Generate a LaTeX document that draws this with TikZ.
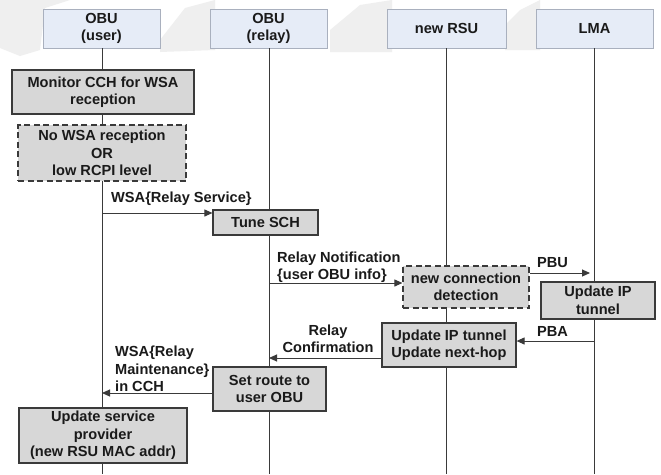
\documentclass[tikz,border=0pt]{standalone}
\usepackage{fontspec}
\setmainfont{Liberation Sans}
\usetikzlibrary{arrows.meta}
\definecolor{hdrfill}{HTML}{E6ECF7}
\definecolor{hdrdraw}{HTML}{A9B0BE}
\definecolor{boxfill}{HTML}{D7D7D7}
\definecolor{linec}{HTML}{3A3A3A}
\definecolor{txt}{HTML}{1A1A1A}
\definecolor{smudge}{HTML}{EFEFEF}
\begin{document}
\begin{tikzpicture}[x=1pt,y=-1pt,
  every node/.style={font=\fontsize{14.6}{17.5}\selectfont\bfseries, text=txt},
  hdr/.style={draw=hdrdraw, line width=0.8pt, fill=hdrfill, align=center, inner sep=0pt, minimum height=39pt},
  gbox/.style={draw=linec, line width=1.2pt, fill=boxfill, align=center, inner sep=0pt},
  dbox/.style={gbox, dash pattern=on 6pt off 3.5pt},
  life/.style={draw=linec, line width=1pt},
  msg/.style={draw=linec, line width=1pt, -{Triangle[length=8pt,width=7pt]}},
  lbl/.style={inner sep=0pt, align=left, anchor=north west},
  smudgestyle/.style={fill=smudge, draw=none},
]
\useasboundingbox[fill=white] (0,0) rectangle (661,474);
% faint background smudges
\fill[smudgestyle] (0,0) -- (70,0) -- (45,8) -- (40,50) -- (20,56) -- (0,48) -- cycle;
\fill[smudgestyle] (160,40) -- (185,8) -- (215,0) -- (215,50) -- (160,52) -- cycle;
\fill[smudgestyle] (330,30) -- (360,5) -- (392,0) -- (392,52) -- (330,52) -- cycle;
\fill[smudgestyle] (505,25) -- (520,10) -- (540,0) -- (540,50) -- (505,50) -- cycle;
% headers
\node[hdr, minimum width=117pt] (hu) at (101.5,28.5) {OBU\\(user)};
\node[hdr, minimum width=117pt] (hr) at (268.5,28.5) {OBU\\(relay)};
\node[hdr, minimum width=119pt] (hs) at (446.5,28.5) {new RSU};
\node[hdr, minimum width=117pt] (hl) at (594.5,28.5) {LMA};
% lifelines
\coordinate (bu) at (102,474);
\coordinate (br) at (269,474);
\coordinate (bs) at (446.5,474);
\coordinate (bl) at (594.5,474);
\draw[life] (hu.south -| bu) -- (bu);
\draw[life] (hr.south -| br) -- (br);
\draw[life] (hs.south -| bs) -- (bs);
\draw[life] (hl.south -| bl) -- (bl);
% boxes
\node[gbox, minimum width=182pt, minimum height=44pt] (mon) at (103,92) {Monitor CCH for WSA\\reception};
\node[dbox, minimum width=168pt, minimum height=56pt] (nowsa) at (102,153) {No WSA reception\\OR\\low RCPI level};
\node[gbox, minimum width=105pt, minimum height=25pt] (tune) at (265.5,222.5) {Tune SCH};
\node[dbox, minimum width=126pt, minimum height=42pt] (ncd) at (466,287) {new connection\\detection};
\node[gbox, minimum width=114pt, minimum height=37pt] (uip) at (598,300.5) {Update IP\\tunnel};
\node[gbox, minimum width=134pt, minimum height=44pt] (unh) at (449,345) {Update IP tunnel\\Update next-hop};
\node[gbox, minimum width=113pt, minimum height=44pt] (srt) at (269.5,389) {Set route to\\user OBU};
\node[gbox, minimum width=168pt, minimum height=55pt] (usp) at (103,435.5) {Update service\\provider\\(new RSU MAC addr)};
% messages
\coordinate (m1) at (102,213);
\draw[msg] (m1) -- (tune.west |- m1);
\node[lbl] (l1) at (111,191.5) {WSA\{Relay Service\}};
\coordinate (m2) at (269,283);
\draw[msg] (m2) -- (ncd.west |- m2);
\node[lbl] (l2) at (277,251.5) {Relay Notification\\\{user OBU info\}};
\coordinate (m3) at (590,273);
\draw[msg] (ncd.east |- m3) -- (m3);
\node[lbl] (l3) at (537,257.5) {PBU};
\coordinate (m4) at (594.5,341);
\draw[msg] (m4) -- (unh.east |- m4);
\node[lbl] (l4) at (537,326.5) {PBA};
\coordinate (m5) at (269,358);
\draw[msg] (unh.west |- m5) -- (m5);
\node[inner sep=0pt, align=center, anchor=north] (l5) at (328,324.5) {Relay\\Confirmation};
\coordinate (m6) at (102,393);
\draw[msg] (srt.west |- m6) -- (m6);
\node[lbl] (l6) at (115,346) {WSA\{Relay\\Maintenance\}\\in CCH};
\end{tikzpicture}
\end{document}
